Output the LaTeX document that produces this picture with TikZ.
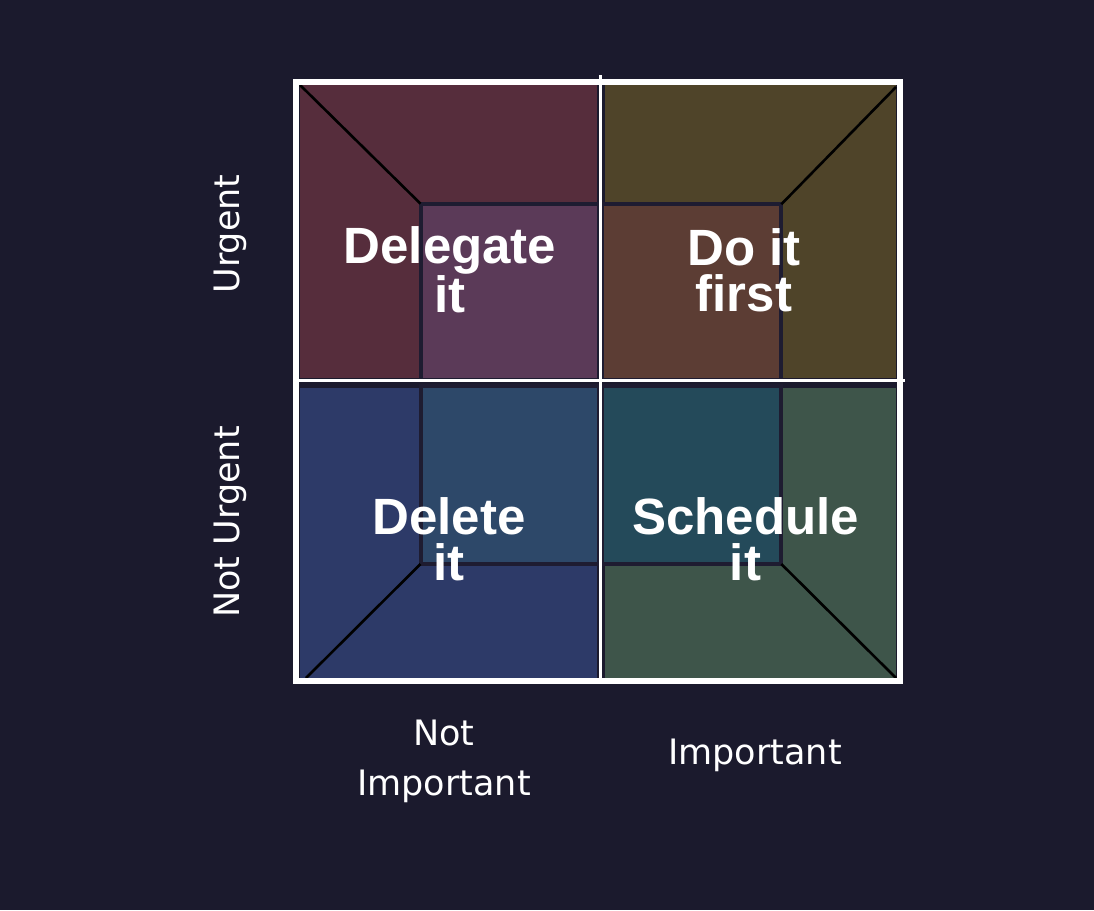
\documentclass[tikz,border=0pt]{standalone}
\usepackage{fontspec}
\setmainfont{Liberation Sans}
\newfontfamily\axisfont{DejaVu Sans}

\definecolor{bgdark}{HTML}{1B1A2D}
\definecolor{seam}{HTML}{1E1C31}
\definecolor{tlout}{HTML}{562D3C}
\definecolor{tlin}{HTML}{5B3A58}
\definecolor{trout}{HTML}{4F4429}
\definecolor{trin}{HTML}{5C3D34}
\definecolor{blout}{HTML}{2D3A68}
\definecolor{blin}{HTML}{2D4869}
\definecolor{brout}{HTML}{3E554A}
\definecolor{brin}{HTML}{244A5A}

\begin{document}
\begin{tikzpicture}[x=1pt, y=-1pt,
  innerbox/.style={draw=seam, line width=4pt},
  ridge/.style={draw=black, line width=2.6pt},
  frame/.style={draw=white, line width=6pt},
  midline/.style={draw=white, line width=3pt},
  task/.style={text=white, font=\bfseries\fontsize{51}{46}\selectfont, align=center, inner sep=0pt},
  tag/.style={text=white, font=\axisfont\fontsize{35}{50}\selectfont, align=center, inner sep=0pt}]
  \fill[bgdark] (0,0) rectangle (1094,910);
  % outer walls of each quadrant
  \fill[tlout] (300,85) rectangle (597,378);
  \fill[trout] (605,85) rectangle (896,378);
  \fill[blout] (300,388) rectangle (597,678);
  \fill[brout] (605,388) rectangle (896,678);
  % back walls
  \filldraw[innerbox, fill=tlin] (420.5,203.7) rectangle (599,380);
  \filldraw[innerbox, fill=trin] (602,204.3) rectangle (781.3,380);
  \filldraw[innerbox, fill=blin] (420.5,386) rectangle (599,564);
  \filldraw[innerbox, fill=brin] (602,386) rectangle (781.3,564);
  % corner edges
  \draw[ridge] (300,85) -- (420.5,203.7);
  \draw[ridge] (896,87) -- (781.3,204.3);
  \draw[ridge] (420.5,564) -- (306,678);
  \draw[ridge] (781.3,564) -- (896,678);
  % axes and frame
  \draw[midline] (600.5,75) -- (600.5,681);
  \draw[midline] (296,380.5) -- (905,380.5);
  \draw[frame] (296,81.5) rectangle (899.5,681);
  % quadrant labels
  \node[task] (delegate) at (450,270) {Delegate\\it};
  \node[task] (dofirst) at (744,270) {Do it\\first};
  \node[task] (delete) at (449,539) {Delete\\it};
  \node[task] (schedule) at (745.5,539) {Schedule\\it};
  % axis labels
  \node[tag, rotate=90] (urgent) at (230,234) {Urgent};
  \node[tag, rotate=90] (noturgent) at (230,522) {Not Urgent};
  \node[tag] (notimportant) at (444,761) {Not\\Important};
  \node[tag, anchor=base] (important) at (755,764) {Important};
\end{tikzpicture}
\end{document}
